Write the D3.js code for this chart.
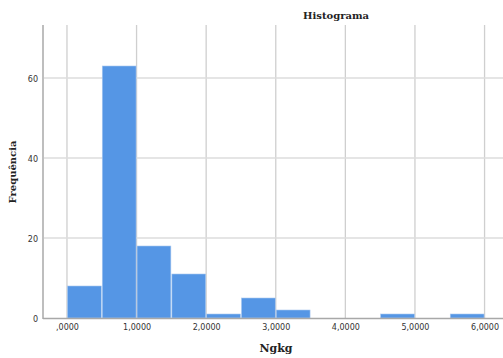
<!DOCTYPE html>
<html><head><meta charset="utf-8">
<script src="https://cdn.jsdelivr.net/npm/d3@7"></script>
<style>body{margin:0;background:#fff}svg{display:block}</style>
</head><body>
<script>
const binStarts = [0, 0.5, 1.0, 1.5, 2.0, 2.5, 3.0, 3.5, 4.0, 4.5, 5.0, 5.5];
const counts    = [8, 63, 18, 11, 1, 5, 2, 0, 0, 1, 0, 1];
const binWidth = 0.5;
const xTicks = [0, 1, 2, 3, 4, 5, 6];
const xTickLabels = [",0000", "1,0000", "2,0000", "3,0000", "4,0000", "5,0000", "6,0000"];
const yTicks = [0, 20, 40, 60];

(function () {
const W = 503, H = 358;
const svg = d3.select("body").append("svg").attr("width", W).attr("height", H);
const pl = 44, pr = 503, pt = 25, pb = 318;
const x = d3.scaleLinear().domain([-0.33, 6.265]).range([pl, pr]);
const y = d3.scaleLinear().domain([0, 73.25]).range([pb, pt]);

// grid
svg.append("g").selectAll("line").data(xTicks).join("line")
  .attr("x1", d => x(d)).attr("x2", d => x(d)).attr("y1", pt).attr("y2", pb)
  .attr("stroke", "#cfcfcf").attr("stroke-width", 1.3);
svg.append("g").selectAll("line").data(yTicks.filter(d => d > 0)).join("line")
  .attr("x1", pl).attr("x2", pr).attr("y1", d => y(d)).attr("y2", d => y(d))
  .attr("stroke", "#dcdcdc").attr("stroke-width", 1.3);

// bars
const data = binStarts.map((s, i) => ({s, c: counts[i]})).filter(d => d.c > 0);
svg.append("g").selectAll("rect").data(data).join("rect")
  .attr("x", d => x(d.s) + 0.5).attr("width", d => x(d.s + binWidth) - x(d.s) - 1)
  .attr("y", d => y(d.c)).attr("height", d => y(0) - y(d.c))
  .attr("fill", "#5596e5").attr("stroke", "#a9c8ef").attr("stroke-width", 0.6);

// axes lines
svg.append("line").attr("x1", pl - 1).attr("x2", pl - 1).attr("y1", pt).attr("y2", pb + 1)
  .attr("stroke", "#a8a8a8").attr("stroke-width", 1.5);
svg.append("line").attr("x1", pl - 1).attr("x2", pr).attr("y1", pb + 0.5).attr("y2", pb + 0.5)
  .attr("stroke", "#a8a8a8").attr("stroke-width", 1.5);

// tick labels
const yAxis = d3.axisLeft(y).tickValues(yTicks).tickSize(0).tickPadding(6);
const gy = svg.append("g").attr("transform", `translate(${pl},0)`).call(yAxis);
gy.select(".domain").remove();
gy.selectAll("text").attr("font-family", "'DejaVu Sans', sans-serif").attr("font-size", 8).attr("fill", "#333").attr("dy", "0.45em");

const xAxis = d3.axisBottom(x).tickValues(xTicks).tickFormat((d, i) => xTickLabels[i]).tickSize(0).tickPadding(6);
const gx = svg.append("g").attr("transform", `translate(0,${pb})`).call(xAxis);
gx.select(".domain").remove();
gx.selectAll("text").attr("font-family", "'DejaVu Sans', sans-serif").attr("font-size", 8).attr("fill", "#333");

// titles
svg.append("text").attr("x", 336).attr("y", 19).attr("text-anchor", "middle")
  .attr("font-family", "'DejaVu Serif', serif").attr("font-weight", "bold").attr("font-size", 10)
  .attr("fill", "#222").text("Histograma");
svg.append("text").attr("x", 276).attr("y", 352).attr("text-anchor", "middle")
  .attr("font-family", "'DejaVu Serif', serif").attr("font-weight", "bold").attr("font-size", 11)
  .attr("fill", "#222").text("Ngkg");
svg.append("text").attr("transform", "translate(16,172) rotate(-90)").attr("text-anchor", "middle")
  .attr("font-family", "'DejaVu Serif', serif").attr("font-weight", "bold").attr("font-size", 10)
  .attr("fill", "#222").text("Frequência");
})();
</script>
</body></html>
